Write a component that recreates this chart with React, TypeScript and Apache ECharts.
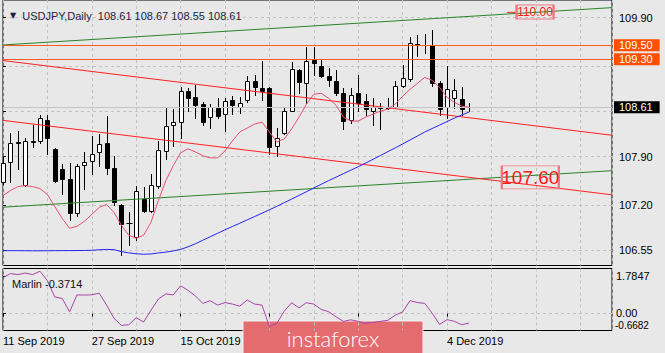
import React, { useEffect, useRef } from "react";
import * as echarts from "echarts";

// ---- data ----
const dates = [
  "11 Sep 2019", "12 Sep 2019", "13 Sep 2019", "16 Sep 2019", "17 Sep 2019", "18 Sep 2019", "19 Sep 2019", "20 Sep 2019",
  "23 Sep 2019", "24 Sep 2019", "25 Sep 2019", "26 Sep 2019", "27 Sep 2019", "30 Sep 2019", "1 Oct 2019", "2 Oct 2019",
  "3 Oct 2019", "4 Oct 2019", "7 Oct 2019", "8 Oct 2019", "9 Oct 2019", "10 Oct 2019", "11 Oct 2019", "14 Oct 2019",
  "15 Oct 2019", "16 Oct 2019", "17 Oct 2019", "18 Oct 2019", "21 Oct 2019", "22 Oct 2019", "23 Oct 2019", "24 Oct 2019",
  "25 Oct 2019", "28 Oct 2019", "29 Oct 2019", "30 Oct 2019", "31 Oct 2019", "1 Nov 2019", "4 Nov 2019", "5 Nov 2019",
  "6 Nov 2019", "7 Nov 2019", "8 Nov 2019", "11 Nov 2019", "12 Nov 2019", "13 Nov 2019", "14 Nov 2019", "15 Nov 2019",
  "18 Nov 2019", "19 Nov 2019", "20 Nov 2019", "21 Nov 2019", "22 Nov 2019", "25 Nov 2019", "26 Nov 2019", "27 Nov 2019",
  "28 Nov 2019", "29 Nov 2019", "2 Dec 2019", "3 Dec 2019", "4 Dec 2019", "5 Dec 2019", "6 Dec 2019", "9 Dec 2019",
];

const opens = [
  107.53, 107.82, 108.11, 107.49, 108.13, 108.12, 108.43, 108.01, 107.72, 107.58,
  107.08, 107.78, 107.84, 107.96, 108.09, 107.73, 107.20, 106.95, 106.74, 107.29,
  107.12, 107.48, 107.98, 108.36, 108.39, 108.85, 108.75, 108.66, 108.47, 108.60,
  108.51, 108.71, 108.62, 108.71, 108.98, 108.88, 108.88, 108.05, 108.24, 108.56,
  109.15, 108.96, 109.29, 109.21, 109.06, 108.98, 108.82, 108.42, 108.81, 108.70,
  108.55, 108.62, 108.60, 108.61, 108.91, 109.01, 109.52, 109.50, 109.51, 108.96,
  108.62, 108.74, 108.73, 108.61,
];
const highs = [
  107.89, 108.24, 108.27, 108.17, 108.36, 108.50, 108.50, 108.02, 107.79, 107.81,
  107.79, 107.96, 108.19, 108.22, 108.48, 107.91, 107.22, 107.10, 107.48, 107.46,
  107.65, 108.12, 108.62, 108.58, 108.90, 108.89, 108.93, 108.68, 108.66, 108.74,
  108.74, 108.77, 108.75, 109.06, 109.08, 109.28, 108.90, 108.31, 108.62, 109.26,
  109.16, 109.48, 109.48, 109.29, 109.17, 109.14, 108.89, 108.89, 109.08, 108.80,
  108.74, 108.67, 108.74, 108.98, 109.22, 109.62, 109.65, 109.67, 109.72, 108.99,
  109.21, 109.01, 108.90, 108.67,
];
const lows = [
  107.51, 107.53, 107.72, 107.48, 108.03, 108.10, 107.93, 107.53, 107.36, 106.98,
  107.05, 107.43, 107.65, 107.77, 107.65, 107.20, 106.48, 106.62, 106.70, 107.10,
  107.10, 107.45, 107.86, 108.05, 108.16, 108.55, 108.45, 108.36, 108.31, 108.45,
  108.27, 108.51, 108.53, 108.69, 108.79, 108.72, 107.93, 107.91, 108.22, 108.55,
  108.81, 108.67, 109.08, 109.05, 108.92, 108.78, 108.30, 108.38, 108.55, 108.50,
  108.36, 108.29, 108.58, 108.60, 108.90, 108.99, 109.34, 109.39, 108.91, 108.50,
  108.45, 108.60, 108.50, 108.55,
];
const closes = [
  107.81, 108.10, 108.09, 108.12, 108.11, 108.45, 108.17, 107.55, 107.58, 107.09,
  107.77, 107.82, 107.93, 108.08, 107.74, 107.25, 106.93, 106.94, 107.41, 107.11,
  107.49, 107.99, 108.34, 108.40, 108.85, 108.74, 108.64, 108.39, 108.61, 108.48,
  108.70, 108.64, 108.67, 108.99, 108.90, 108.85, 108.03, 108.17, 108.56, 109.16,
  108.97, 109.28, 109.24, 109.06, 109.00, 108.82, 108.41, 108.79, 108.67, 108.58,
  108.61, 108.60, 108.62, 108.91, 109.03, 109.53, 109.51, 109.51, 108.96, 108.58,
  108.87, 108.86, 108.59, 108.61,
];

const fastMA = [
  107.338, 107.410, 107.467, 107.481, 107.467, 107.438, 107.353, 107.180, 107.010, 106.867,
  106.896, 106.967, 107.067, 107.167, 107.210, 107.096, 106.910, 106.767, 106.724, 106.767,
  106.953, 107.267, 107.553, 107.767, 107.953, 108.010, 107.967, 107.910, 107.881, 107.881,
  107.981, 108.124, 108.253, 108.310, 108.367, 108.396, 108.253, 108.110, 108.153, 108.296,
  108.467, 108.653, 108.796, 108.810, 108.739, 108.639, 108.467, 108.410, 108.410, 108.467,
  108.510, 108.553, 108.581, 108.653, 108.767, 108.867, 108.953, 109.039, 108.996, 108.896,
  108.753, 108.681, 108.624, 108.610,
];
const slowMA = [
  106.546, 106.545, 106.545, 106.544, 106.543, 106.543, 106.544, 106.545, 106.546, 106.546,
  106.547, 106.548, 106.550, 106.558, 106.563, 106.560, 106.531, 106.513, 106.501, 106.493,
  106.498, 106.513, 106.524, 106.541, 106.563, 106.600, 106.645, 106.695, 106.745, 106.795,
  106.845, 106.893, 106.940, 106.988, 107.036, 107.084, 107.133, 107.183, 107.235, 107.287,
  107.340, 107.393, 107.447, 107.500, 107.553, 107.603, 107.653, 107.703, 107.753, 107.805,
  107.860, 107.914, 107.970, 108.024, 108.081, 108.138, 108.195, 108.253, 108.303, 108.353,
  108.403, 108.453, 108.498, 108.541,
];
const marlin = [
  1.423, 1.584, 1.544, 1.604, 1.544, 1.676, 1.302, 0.659, 0.599, 0.068,
  0.739, 0.735, 0.745, 0.808, 0.337, -0.185, -0.467, -0.439, -0.165, -0.334,
  0.136, 0.578, 0.779, 0.739, 1.101, 0.920, 0.699, 0.405, 0.510, 0.337,
  0.438, 0.377, 0.297, 0.538, 0.377, 0.337, -0.507, -0.387, 0.096, 0.430,
  0.229, 0.430, 0.377, 0.164, 0.076, -0.125, -0.306, -0.246, -0.306, -0.387,
  -0.347, -0.306, -0.266, -0.065, 0.068, 0.510, 0.438, 0.405, 0.015, -0.427,
  -0.238, -0.306, -0.439, -0.3714,
];

const priceTicks = [106.55, 107.2, 107.9, 108.55, 109.2, 109.9];
const priceLabels = [106.55, 107.2, 107.9, 109.9];
const marlinRange = [-0.6682, 1.7847];
const marlinLabelTexts = ["1.7847", "0.00", "-0.6682"];
// label anchors sit inside the panel edges, the way MetaTrader draws them
const marlinLabelAt = [1.496, 0.03, -0.462];
const marlinTickAt = [1.496, 0];
const dateLabelBars = [0, 12, 24, 60];
const dateTickBars = [0, 12, 24, 36, 48, 60];

const levelPrices = [109.5, 109.3];
const bidPrice = 108.61;

const greenUpper = [[0, 109.506], [82.3, 110.043]];
const redUpper = [[0, 109.281], [82.3, 108.206]];
const redLower = [[0, 108.42], [82.3, 107.349]];
const greenLower = [[0, 107.171], [82.3, 107.696]];
const redDash = [[68.1, 109.975], [69.3, 109.975]];

const targetTexts = ["107.60", "110.00"];
const targetPrices = [107.6, 109.98];
const targetBars = [71.26, 71.9];

// ---- styles ----
const FONT = '"Liberation Sans", Arial, sans-serif';
const BG = "#e8e8e8";
const ORANGE = "#ff5a20";
const GRIDLINE = { color: "#c2c2c2", type: [3, 3] as any, width: 1 };
const X_MAX = 82.3;

function renderCandle(params: any, api: any) {
  const i = api.value(0);
  const o = api.value(1);
  const c = api.value(2);
  const l = api.value(3);
  const h = api.value(4);
  const pO = api.coord([i, o]);
  const pC = api.coord([i, c]);
  const pH = api.coord([i, h]);
  const pL = api.coord([i, l]);
  const x = Math.round(pO[0]) + 0.5;
  const top = Math.round(Math.min(pO[1], pC[1])) + 0.5;
  const bot = Math.round(Math.max(pO[1], pC[1])) + 0.5;
  const bull = c >= o;
  const children: any[] = [
    {
      type: "line",
      shape: { x1: x, y1: Math.round(pH[1]), x2: x, y2: Math.round(pL[1]) + 1 },
      style: { stroke: "#000", lineWidth: 1 },
    },
  ];
  if (bot - top < 1) {
    children.push({
      type: "line",
      shape: { x1: x - 3, y1: top, x2: x + 3, y2: top },
      style: { stroke: "#000", lineWidth: 1 },
    });
  } else {
    children.push({
      type: "rect",
      shape: { x: x - 2, y: top, width: 4, height: bot - top },
      style: { fill: bull ? "#fff" : "#000", stroke: "#000", lineWidth: 1 },
    });
  }
  return { type: "group", children };
}

function lineSeries(data: number[][], color: string, z = 4) {
  return {
    type: "line",
    xAxisIndex: 0,
    yAxisIndex: 0,
    data,
    showSymbol: false,
    symbol: "none",
    silent: true,
    z,
    lineStyle: { color, width: 1 },
    emphasis: { disabled: true },
  };
}

const boxLabel = (text: string, bg: string) => ({
  show: true,
  position: "end",
  distance: 2,
  formatter: text,
  color: "#fff",
  backgroundColor: bg,
  fontFamily: FONT,
  fontSize: 11,
  lineHeight: 12,
  padding: [0, 7, 0, 5],
});

const marlinLabelFormatter = (v: number) => {
  const k = marlinLabelAt.findIndex((a) => Math.abs(a - v) < 1e-6);
  return k >= 0 ? marlinLabelTexts[k] : "";
};

export default function App() {
  const ref = useRef<HTMLDivElement>(null);

  useEffect(() => {
    if (!ref.current) return;
    const chart = echarts.init(ref.current, null, { renderer: "svg" });
    const last = opens.length - 1;
    const candleData = opens.map((o, i) => [i, o, closes[i], lows[i], highs[i]]);

    const option: any = {
      animation: false,
      backgroundColor: BG,
      title: [
        {
          left: 5,
          top: 5,
          text: `{tri|▼}  USDJPY,Daily  ${opens[last].toFixed(2)} ${highs[last].toFixed(2)} ${lows[last].toFixed(2)} ${closes[last].toFixed(2)}`,
          textStyle: {
            fontFamily: FONT,
            fontSize: 11,
            fontWeight: "normal",
            color: "#1e1e3c",
            rich: { tri: { fontSize: 8, color: "#1e1e3c", fontFamily: "DejaVu Sans" } },
          },
        },
        {
          left: 7,
          top: 273,
          text: `Marlin ${marlin[last]}`,
          textStyle: { fontFamily: FONT, fontSize: 11, fontWeight: "normal", color: "#111" },
        },
      ],
      grid: [
        { left: 3, right: 53, top: -2, height: 267.5, show: true, borderColor: "#000", borderWidth: 1, backgroundColor: "transparent" },
        { left: 3, right: 53, top: 268.5, height: 62, show: true, borderColor: "#000", borderWidth: 1, backgroundColor: "transparent" },
      ],
      xAxis: [
        {
          type: "value", gridIndex: 0, min: 0, max: X_MAX, interval: 6,
          axisLine: { show: false }, axisTick: { show: false }, axisLabel: { show: false },
          splitLine: { show: true, lineStyle: GRIDLINE },
        },
        {
          type: "value", gridIndex: 1, min: 0, max: X_MAX, position: "bottom",
          axisLine: { show: false },
          axisTick: { show: true, length: 3, lineStyle: { color: "#000" }, customValues: dateTickBars },
          axisLabel: {
            show: true, customValues: dateLabelBars, align: "left", margin: 5,
            formatter: (v: number) => dates[Math.round(v)] || "",
            fontFamily: FONT, fontSize: 11, color: "#000",
          },
          splitLine: { show: false },
        },
        {
          type: "value", gridIndex: 1, min: 0, max: X_MAX, interval: 6, position: "bottom",
          axisLine: { show: false }, axisTick: { show: false }, axisLabel: { show: false },
          splitLine: { show: true, lineStyle: GRIDLINE },
        },
      ],
      yAxis: [
        {
          type: "value", gridIndex: 0, position: "right", min: 106.3315, max: 110.1529,
          axisLine: { show: false },
          axisTick: { show: true, length: 3, lineStyle: { color: "#000" }, customValues: priceTicks },
          axisLabel: {
            show: true, customValues: priceLabels, margin: 7,
            formatter: (v: number) => v.toFixed(2),
            fontFamily: FONT, fontSize: 11, color: "#000",
          },
          splitLine: { show: true, lineStyle: GRIDLINE },
        },
        {
          type: "value", gridIndex: 1, position: "right", min: marlinRange[0], max: marlinRange[1],
          axisLine: { show: false },
          axisTick: { show: true, length: 3, lineStyle: { color: "#000" }, customValues: marlinTickAt },
          axisLabel: {
            show: true, customValues: marlinLabelAt.slice(0, 2), margin: 4,
            formatter: marlinLabelFormatter,
            fontFamily: FONT, fontSize: 11, color: "#000",
          },
          splitLine: { show: false },
        },
        {
          type: "value", gridIndex: 1, position: "right", min: marlinRange[0], max: marlinRange[1],
          axisLine: { show: false },
          axisLabel: {
            show: true, customValues: marlinLabelAt.slice(2), margin: 3,
            formatter: marlinLabelFormatter,
            fontFamily: FONT, fontSize: 10, color: "#000",
          },
          axisTick: { show: false, customValues: [0] },
          splitLine: { show: true, lineStyle: GRIDLINE },
        },
      ],
      series: [
        {
          type: "custom",
          xAxisIndex: 0,
          yAxisIndex: 0,
          data: candleData,
          encode: { x: 0, y: [1, 2, 3, 4] },
          renderItem: renderCandle,
          clip: false,
          silent: true,
          z: 3,
          markLine: {
            silent: true,
            symbol: ["none", "none"],
            animation: false,
            data: [
              { yAxis: bidPrice, lineStyle: { color: "#c4c4c4", width: 1, type: "solid" }, label: boxLabel(bidPrice.toFixed(2), "#000") },
              ...levelPrices.map((p) => ({
                yAxis: p,
                lineStyle: { color: ORANGE, width: 1, type: "solid" },
                label: boxLabel(p.toFixed(2), "#ff5000"),
              })),
            ],
          },
          markPoint: {
            silent: true,
            animation: false,
            data: [
              {
                coord: [targetBars[0], targetPrices[0]],
                symbol: "rect",
                symbolSize: [57, 23],
                itemStyle: { color: "rgba(0,0,0,0)", borderColor: "#f07880", borderWidth: 1.5 },
                label: { show: true, position: "inside", formatter: targetTexts[0], color: "#ff1a1a", fontSize: 19, fontFamily: FONT },
              },
              {
                coord: [targetBars[1], targetPrices[1]],
                symbol: "rect",
                symbolSize: [37, 14],
                itemStyle: { color: "rgba(0,0,0,0)", borderColor: "#f07880", borderWidth: 1.5 },
                label: { show: true, position: "inside", formatter: targetTexts[1], color: "#ff1a1a", fontSize: 12, fontFamily: FONT },
              },
            ],
          },
        },
        lineSeries(greenUpper, "#2a822a"),
        lineSeries(greenLower, "#2a822a"),
        lineSeries(redUpper, "#ff2020"),
        lineSeries(redLower, "#ff2020"),
        lineSeries(redDash, "#ff2020"),
        lineSeries(fastMA.map((v, i) => [i, v]), "#e8506e", 5),
        lineSeries(slowMA.map((v, i) => [i, v]), "#2424f0", 5),
        {
          type: "line",
          xAxisIndex: 1,
          yAxisIndex: 1,
          data: marlin.map((v, i) => [i, v]),
          showSymbol: false,
          symbol: "none",
          silent: true,
          lineStyle: { color: "#a844a8", width: 1 },
        },
      ],
      graphic: [
        {
          type: "group",
          z: 100,
          children: [
            {
              type: "rect",
              shape: { x: 243, y: 321, width: 180, height: 36, r: 1 },
              style: { fill: "#e46b6e", stroke: "#f2f2f2", lineWidth: 1 },
            },
            {
              type: "text",
              x: 333,
              y: 338,
              style: {
                text: "instaforex",
                fill: "#ffffff",
                fontFamily: "Lato, 'Open Sans', sans-serif",
                fontWeight: 300,
                fontSize: 22,
                align: "center",
                verticalAlign: "middle",
              },
            },
          ],
        },
      ],
    };

    chart.setOption(option);
    return () => chart.dispose();
  }, []);

  return (
    <div
      ref={ref}
      style={{ position: "absolute", left: 0, top: 0, width: 665, height: 353, background: BG }}
    />
  );
}
